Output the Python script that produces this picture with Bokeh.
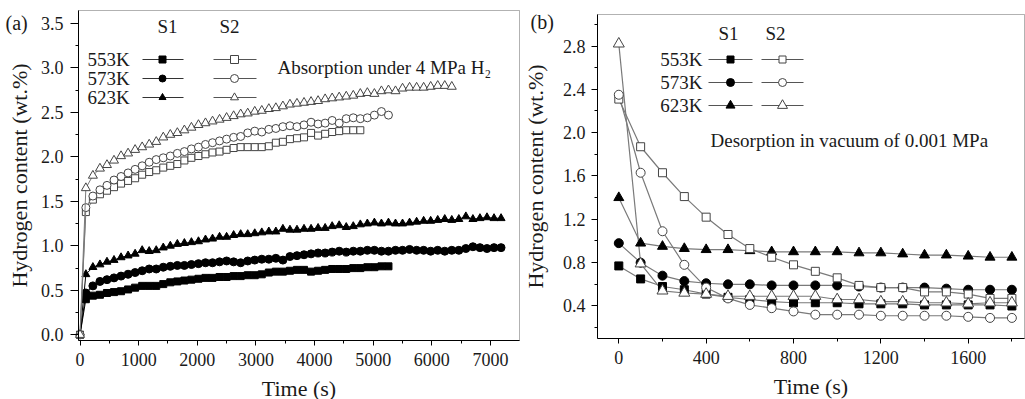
from bokeh.plotting import figure
from bokeh.layouts import row
from bokeh.models import (Range1d, SingleIntervalTicker, FixedTicker, NumeralTickFormatter,
                          Label, BoxAnnotation)
from bokeh.embed import file_html
from bokeh.resources import INLINE

FONT = "Liberation Serif"

# ---------------- Panel (a): absorption under 4 MPa H2 ----------------
# sampling times (s): origin, then every 120 s starting at 100 s
t_a = [0] + list(range(100, 7200, 120))

a_s1_553 = [0.0, 0.40, 0.44, 0.45, 0.47, 0.48, 0.49, 0.51, 0.53, 0.55, 0.55,
            0.55, 0.57, 0.59, 0.60, 0.61, 0.62, 0.63, 0.64, 0.64, 0.65,
            0.65, 0.66, 0.66, 0.67, 0.67, 0.68, 0.70, 0.71, 0.71, 0.72,
            0.73, 0.73, 0.71, 0.72, 0.73, 0.74, 0.74, 0.74, 0.75, 0.75,
            0.76, 0.76, 0.77, 0.77]
a_s1_573 = [0.0, 0.47, 0.55, 0.60, 0.62, 0.64, 0.66, 0.68, 0.70, 0.72, 0.74,
            0.74, 0.76, 0.77, 0.78, 0.78, 0.79, 0.80, 0.81, 0.81, 0.82,
            0.83, 0.82, 0.81, 0.83, 0.84, 0.85, 0.85, 0.86, 0.84, 0.88,
            0.89, 0.90, 0.91, 0.92, 0.92, 0.93, 0.94, 0.93, 0.94, 0.94,
            0.95, 0.95, 0.94, 0.94, 0.95, 0.95, 0.96, 0.95, 0.95, 0.94,
            0.95, 0.94, 0.95, 0.95, 0.97, 0.99, 0.98, 0.97, 0.98, 0.98]
a_s1_623 = [0.0, 0.68, 0.76, 0.79, 0.82, 0.84, 0.87, 0.89, 0.91, 0.95, 0.94,
            0.95, 0.98, 1.00, 1.02, 1.03, 1.04, 1.05, 1.07, 1.08, 1.10,
            1.10, 1.12, 1.13, 1.13, 1.14, 1.15, 1.16, 1.16, 1.19, 1.18,
            1.18, 1.19, 1.19, 1.20, 1.20, 1.22, 1.23, 1.21, 1.22, 1.24,
            1.25, 1.26, 1.25, 1.26, 1.25, 1.25, 1.26, 1.27, 1.28, 1.28,
            1.29, 1.30, 1.29, 1.30, 1.33, 1.30, 1.31, 1.32, 1.31, 1.31]
a_s2_553 = [0.0, 1.38, 1.52, 1.58, 1.62, 1.66, 1.70, 1.73, 1.76, 1.80, 1.83,
            1.85, 1.88, 1.90, 1.92, 1.96, 1.99, 2.01, 2.03, 2.05, 2.06,
            2.08, 2.10, 2.11, 2.11, 2.11, 2.11, 2.12, 2.16, 2.17, 2.20,
            2.21, 2.22, 2.27, 2.24, 2.26, 2.28, 2.29, 2.30, 2.30, 2.30]
a_s2_573 = [0.0, 1.43, 1.56, 1.63, 1.68, 1.74, 1.78, 1.82, 1.86, 1.90, 1.94,
            1.97, 1.99, 2.01, 2.04, 2.06, 2.09, 2.11, 2.14, 2.16, 2.18,
            2.20, 2.22, 2.23, 2.27, 2.29, 2.28, 2.31, 2.32, 2.34, 2.35,
            2.34, 2.36, 2.39, 2.37, 2.38, 2.41, 2.38, 2.43, 2.44, 2.43,
            2.44, 2.47, 2.51, 2.47]
a_s2_623 = [0.0, 1.65, 1.79, 1.87, 1.91, 1.96, 2.01, 2.04, 2.08, 2.11, 2.14,
            2.17, 2.22, 2.25, 2.27, 2.30, 2.33, 2.36, 2.38, 2.40, 2.42,
            2.44, 2.46, 2.48, 2.49, 2.51, 2.52, 2.54, 2.55, 2.57, 2.59,
            2.60, 2.61, 2.62, 2.63, 2.65, 2.66, 2.67, 2.68, 2.69, 2.71,
            2.72, 2.71, 2.74, 2.75, 2.74, 2.77, 2.78, 2.78, 2.78, 2.79,
            2.80, 2.80, 2.79]

# ---------------- Panel (b): desorption in vacuum ----------------
t_b = [0, 100, 200, 300, 400, 500, 600, 700, 800, 900, 1000,
       1100, 1200, 1300, 1400, 1500, 1600, 1700, 1800]
b_s1_553 = [0.77, 0.65, 0.58, 0.55, 0.51, 0.48, 0.46, 0.44, 0.43, 0.43,
            0.43, 0.42, 0.42, 0.42, 0.41, 0.41, 0.41, 0.41, 0.40]
b_s1_573 = [0.98, 0.80, 0.68, 0.63, 0.61, 0.60, 0.60, 0.59, 0.59, 0.59,
            0.59, 0.58, 0.57, 0.57, 0.57, 0.56, 0.55, 0.55, 0.55]
b_s1_623 = [1.40, 0.98, 0.95, 0.93, 0.92, 0.92, 0.91, 0.90, 0.90, 0.90,
            0.90, 0.89, 0.89, 0.88, 0.87, 0.87, 0.86, 0.85, 0.85]
b_s2_553 = [2.31, 1.87, 1.63, 1.41, 1.22, 1.06, 0.93, 0.85, 0.78, 0.72,
            0.66, 0.59, 0.57, 0.57, 0.53, 0.53, 0.51, 0.47, 0.47]
b_s2_573 = [2.35, 1.63, 1.09, 0.78, 0.57, 0.47, 0.41, 0.38, 0.35, 0.32,
            0.32, 0.32, 0.31, 0.31, 0.31, 0.31, 0.30, 0.29, 0.29]
b_s2_623 = [2.82, 0.79, 0.54, 0.52, 0.51, 0.49, 0.49, 0.49, 0.49, 0.49,
            0.46, 0.46, 0.44, 0.44, 0.43, 0.43, 0.42, 0.43, 0.43]

temps = ["553K", "573K", "623K"]
markers = ["square", "circle", "triangle"]

GREY_LINE = "#7a7a7a"
OPEN_EDGE = "#444444"
TXT = "#1a1a1a"
H = 399


def mapper(x0px, xscale, y0py, yscale):
    """pixel (inside one figure's canvas) -> data coordinate"""
    def fx(px):
        return (px - x0px) / xscale

    def fy(py):
        return (y0py - py) / yscale
    return fx, fy


def make_fig(width, fx, fy, box):
    # the frame covers the whole canvas; axes are pinned at the box edges
    left, right, top, bottom = box
    p = figure(width=width, height=H,
               x_range=Range1d(fx(0), fx(width)), y_range=Range1d(fy(H), fy(0)),
               output_backend="svg", toolbar_location=None,
               min_border_left=0, min_border_right=0, min_border_top=0, min_border_bottom=0)
    p.title.visible = False
    p.grid.visible = False
    p.outline_line_color = None
    p.background_fill_color = "white"
    p.border_fill_color = "white"
    p.xaxis.fixed_location = fy(bottom)
    p.xaxis.bounds = (fx(left), fx(right))
    p.yaxis.fixed_location = fx(left)
    p.yaxis.bounds = (fy(bottom), fy(top))
    for ax in (p.xaxis[0], p.yaxis[0]):
        ax.axis_line_color = "black"
        ax.major_tick_line_color = "black"
        ax.minor_tick_line_color = "black"
        ax.major_tick_in = 0
        ax.major_tick_out = 5
        ax.minor_tick_in = 0
        ax.minor_tick_out = 3
        ax.major_label_text_font = FONT
        ax.major_label_text_font_size = "18px"
        ax.major_label_text_color = TXT
        ax.axis_label_text_font = FONT
        ax.axis_label_text_font_size = "22px"
        ax.axis_label_text_font_style = "normal"
        ax.axis_label_text_color = TXT
    p.add_layout(BoxAnnotation(left=fx(left), right=fx(right), top=fy(top), bottom=fy(bottom),
                               fill_color=None, line_color="black", line_width=1, level="underlay"))
    return p


def txt(p, x, y, s, size="19px", align="left"):
    p.add_layout(Label(x=x, y=y, text=s, text_font=FONT, text_font_size=size,
                       text_align=align, text_baseline="middle", text_color=TXT))


# ======================= Figure (a) =======================
fxa, fya = mapper(79.5, 0.058643, 334.3, 88.94)
pa = make_fig(520, fxa, fya, (78, 519, 10, 340))
pa.xaxis.ticker = SingleIntervalTicker(interval=1000, num_minor_ticks=2)
pa.yaxis.ticker = SingleIntervalTicker(interval=0.5, num_minor_ticks=2)
pa.yaxis.formatter = NumeralTickFormatter(format="0.0")
pa.xaxis.axis_label = "Time (s)"
pa.yaxis.axis_label = "Hydrogen content (wt.%)"
pa.yaxis.major_tick_out = 8
pa.xaxis.major_label_standoff = 7
pa.xaxis.axis_label_standoff = 7
pa.yaxis.major_label_standoff = 7
pa.yaxis.axis_label_standoff = 6

s1_a = [a_s1_553, a_s1_573, a_s1_623]
s2_a = [a_s2_553, a_s2_573, a_s2_623]
sizes_a1 = [7, 8, 8]
sizes_a2 = [7, 8, 9]
for vals, mk, sz in zip(s1_a, markers, sizes_a1):
    tt = t_a[:len(vals)]
    pa.line(tt, vals, line_color="black", line_width=1)
    pa.scatter(tt, vals, marker=mk, size=sz, fill_color="black", line_color="black")
for vals, mk, sz in zip(s2_a, markers, sizes_a2):
    tt = t_a[:len(vals)]
    pa.line(tt, vals, line_color=GREY_LINE, line_width=1)
    pa.scatter(tt, vals, marker=mk, size=sz, fill_color="white", line_color=OPEN_EDGE, line_width=1)

# legend (a)
txt(pa, fxa(167), fya(26), "S1", align="center")
txt(pa, fxa(229), fya(26), "S2", align="center")
rows_a = [59, 78, 97]
for lab, mk, py in zip(temps, markers, rows_a):
    txt(pa, fxa(87), fya(py), lab)
    pa.line([fxa(142), fxa(183)], [fya(py), fya(py)], line_color="#333333", line_width=1)
    pa.scatter([fxa(162)], [fya(py)], marker=mk, size=7, fill_color="black", line_color="black")
    pa.line([fxa(213), fxa(256)], [fya(py), fya(py)], line_color="#555555", line_width=1)
    pa.scatter([fxa(234)], [fya(py)], marker=mk, size=8, fill_color="white", line_color=OPEN_EDGE)
txt(pa, fxa(277), fya(67), "Absorption under 4 MPa H\u2082", size="19px")
txt(pa, fxa(5), fya(22), "(a)", size="20px")

# ======================= Figure (b) =======================
fxb, fyb = mapper(98.3, 0.218375, 45.5 + 2.8 * 108.33, 108.33)
pb = make_fig(505, fxb, fyb, (77, 504, 14, 338))
pb.xaxis.ticker = SingleIntervalTicker(interval=400, num_minor_ticks=2)
pb.yaxis.ticker = FixedTicker(ticks=[0.4, 0.8, 1.2, 1.6, 2.0, 2.4, 2.8],
                              minor_ticks=[0.2, 0.6, 1.0, 1.4, 1.8, 2.2, 2.6, 3.0])
pb.yaxis.formatter = NumeralTickFormatter(format="0.0")
pb.xaxis.axis_label = "Time (s)"
pb.yaxis.axis_label = "Hydrogen content (wt.%)"
pb.yaxis.major_tick_out = 6
pb.xaxis.major_label_standoff = 7
pb.xaxis.axis_label_standoff = 7
pb.yaxis.major_label_standoff = 6
pb.yaxis.axis_label_standoff = 12

s1_b = [b_s1_553, b_s1_573, b_s1_623]
s2_b = [b_s2_553, b_s2_573, b_s2_623]
sizes_b1 = [8, 9, 10]
sizes_b2 = [8, 9, 11]
for vals in s1_b + s2_b:
    pb.line(t_b, vals, line_color=GREY_LINE, line_width=1.2)
for vals, mk, sz in zip(s1_b, markers, sizes_b1):
    pb.scatter(t_b, vals, marker=mk, size=sz, fill_color="black", line_color="black")
for vals, mk, sz in zip(s2_b, markers, sizes_b2):
    pb.scatter(t_b, vals, marker=mk, size=sz, fill_color="white", line_color=OPEN_EDGE, line_width=1)

# legend (b) (image x minus 520 for local coordinates)
txt(pb, fxb(728 - 520), fyb(33), "S1", align="center")
txt(pb, fxb(775 - 520), fyb(33), "S2", align="center")
rows_b = [59, 82, 105]
for lab, mk, py, s1s, s2s in zip(temps, markers, rows_b, sizes_b1, sizes_b2):
    txt(pb, fxb(702 - 520), fyb(py), lab, align="right")
    pb.line([fxb(708 - 520), fxb(752 - 520)], [fyb(py), fyb(py)], line_color="#555555", line_width=1)
    pb.scatter([fxb(730 - 520)], [fyb(py)], marker=mk, size=s1s - 1, fill_color="black", line_color="black")
    pb.line([fxb(761 - 520), fxb(803 - 520)], [fyb(py), fyb(py)], line_color="#555555", line_width=1)
    pb.scatter([fxb(782 - 520)], [fyb(py)], marker=mk, size=s2s - 1, fill_color="white", line_color=OPEN_EDGE)
txt(pb, fxb(710 - 520), fyb(140), "Desorption in vacuum of 0.001 MPa")
txt(pb, fxb(530 - 520), fyb(21), "(b)", size="20px")

layout = row(pa, pb)
open("out.html", "w").write(file_html(layout, INLINE))
